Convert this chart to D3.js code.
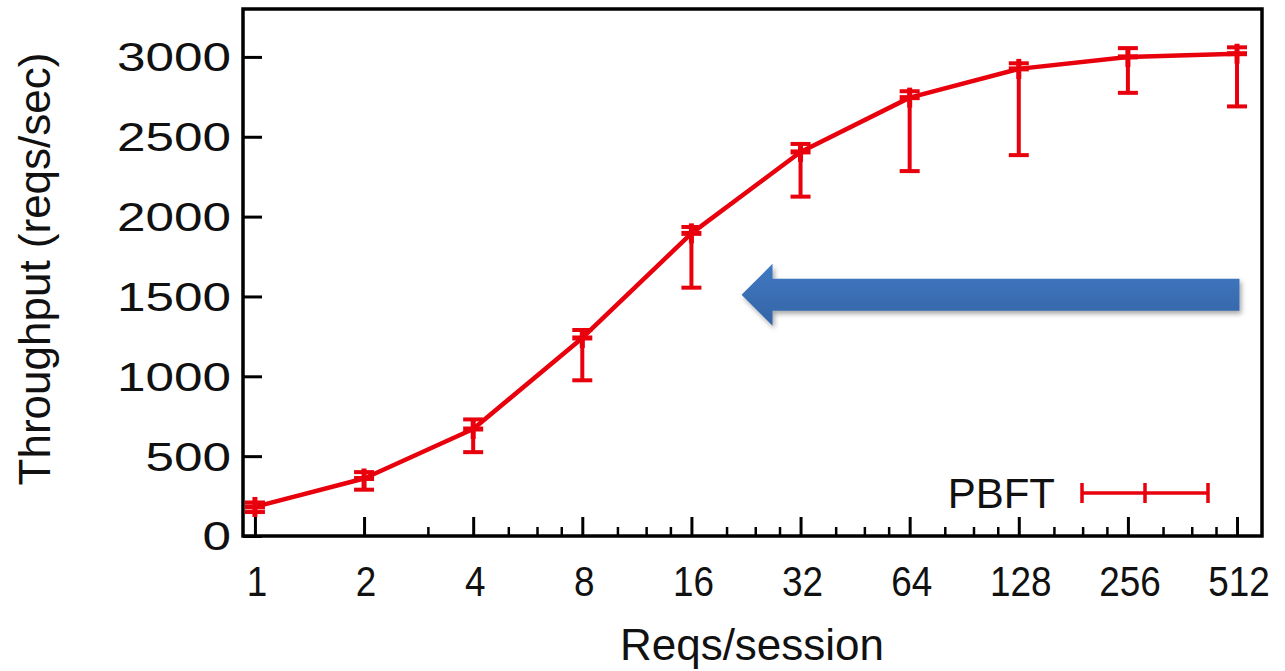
<!DOCTYPE html>
<html>
<head>
<meta charset="utf-8">
<script src="https://cdn.jsdelivr.net/npm/d3@7"></script>
<style>
  html, body { margin: 0; padding: 0; background: #fff; }
  svg { display: block; font-family: "Liberation Sans", Arial, sans-serif; }
</style>
</head>
<body>
<svg id="chart" width="1285" height="671"></svg>
<script>
  // ── Data ────────────────────────────────────────────────────────────────
  const reqsPerSession = [1, 2, 4, 8, 16, 32, 64, 128, 256, 512];
  const throughput     = [182, 360, 670, 1240, 1895, 2405, 2745, 2925, 3000, 3020];
  const throughputLow  = [150, 290, 525, 975, 1555, 2125, 2285, 2385, 2775, 2690];
  const throughputHigh = [210, 400, 730, 1290, 1935, 2455, 2785, 2960, 3055, 3060];

  const xMajorTicks = [1, 2, 4, 8, 16, 32, 64, 128, 256, 512];
  const xMinorTicks = [3, 5, 6, 7, 10, 12, 14, 20, 24, 28, 40, 48, 56,
                       80, 96, 112, 160, 192, 224, 320, 384, 448];
  const yTicks = [0, 500, 1000, 1500, 2000, 2500, 3000];

  const seriesName = 'PBFT';
  const xTitle = 'Reqs/session';
  const yTitle = 'Throughput (reqs/sec)';

  // annotation arrow, in data units: tail (right) -> tip (left)
  const arrowFrom = [520, 1510];
  const arrowTo   = [22, 1510];

  // ── Layout ──────────────────────────────────────────────────────────────
  const RED = '#e8000d';
  const plot = { left: 243, top: 9, right: 1262, bottom: 536 };

  const svg = d3.select('#chart');

  const x = d3.scaleLog().base(2).domain([0.927, 600]).range([plot.left, plot.right]);
  const y = d3.scaleLinear().domain([0, 3300]).range([plot.bottom, plot.top]);

  const defs = svg.append('defs');
  const grad = defs.append('linearGradient').attr('id', 'arrowFill')
    .attr('x1', 0).attr('y1', 0).attr('x2', 0).attr('y2', 1);
  grad.append('stop').attr('offset', '0%').attr('stop-color', '#4079c2');
  grad.append('stop').attr('offset', '100%').attr('stop-color', '#3464a6');
  const shadow = defs.append('filter').attr('id', 'arrowShadow')
    .attr('x', '-10%').attr('y', '-40%').attr('width', '120%').attr('height', '180%');
  shadow.append('feDropShadow').attr('dx', 2).attr('dy', 3).attr('stdDeviation', 2.5)
    .attr('flood-color', '#000').attr('flood-opacity', 0.35);

  // ── Axes (ticks point inward, no mirror) ───────────────────────────────
  const yAxis = svg.append('g')
    .attr('transform', `translate(${plot.left},0)`)
    .call(d3.axisRight(y).tickValues(yTicks).tickSize(19).tickFormat(''));
  yAxis.select('.domain').remove();
  yAxis.selectAll('.tick line').attr('stroke', '#000').attr('stroke-width', 3);

  // y labels in the original are stretched sideways
  svg.append('g').selectAll('text')
    .data(yTicks).enter().append('text')
    .attr('x', 231).attr('y', d => y(d))
    .attr('dy', '0.36em')
    .attr('text-anchor', 'end')
    .attr('font-size', 40)
    .attr('textLength', d => String(d).length * 28.5)
    .attr('lengthAdjust', 'spacingAndGlyphs')
    .attr('fill', '#111')
    .text(d => d);

  const xAxis = svg.append('g')
    .attr('transform', `translate(0,${plot.bottom})`)
    .call(d3.axisTop(x).tickValues(xMajorTicks).tickSize(19).tickFormat(''));
  xAxis.select('.domain').remove();
  xAxis.selectAll('.tick line').attr('stroke', '#000').attr('stroke-width', 3);

  const xMinor = svg.append('g')
    .attr('transform', `translate(0,${plot.bottom})`)
    .call(d3.axisTop(x).tickValues(xMinorTicks).tickSize(9).tickFormat(''));
  xMinor.select('.domain').remove();
  xMinor.selectAll('.tick line').attr('stroke', '#000').attr('stroke-width', 2.5);

  svg.append('g').selectAll('text')
    .data(xMajorTicks).enter().append('text')
    .attr('x', d => x(d) + 2).attr('y', 596)
    .attr('text-anchor', 'middle')
    .attr('font-size', 42)
    .attr('textLength', d => String(d).length * 20.5)
    .attr('lengthAdjust', 'spacingAndGlyphs')
    .attr('fill', '#111')
    .text(d => d);

  // frame
  svg.append('rect')
    .attr('x', plot.left).attr('y', plot.top)
    .attr('width', plot.right - plot.left).attr('height', plot.bottom - plot.top)
    .attr('fill', 'none').attr('stroke', '#000').attr('stroke-width', 3.5);

  // titles
  svg.append('text')
    .attr('x', 752).attr('y', 660)
    .attr('text-anchor', 'middle').attr('font-size', 44).attr('fill', '#111')
    .text(xTitle);
  svg.append('text')
    .attr('transform', 'translate(50,269) rotate(-90)')
    .attr('text-anchor', 'middle').attr('font-size', 44).attr('fill', '#111')
    .text(yTitle);

  // ── Series: line + error bars + "+" markers ────────────────────────────
  const pts = reqsPerSession.map((r, i) => ({
    r, v: throughput[i], lo: throughputLow[i], hi: throughputHigh[i]
  }));

  svg.append('path')
    .datum(pts)
    .attr('d', d3.line().x(d => x(d.r)).y(d => y(d.v)))
    .attr('fill', 'none').attr('stroke', RED).attr('stroke-width', 4.5)
    .attr('stroke-linejoin', 'round');

  const bars = svg.append('g').attr('stroke', RED);
  pts.forEach(d => {
    const cx = x(d.r);
    bars.append('line').attr('x1', cx).attr('x2', cx)
      .attr('y1', y(d.lo)).attr('y2', y(d.hi)).attr('stroke-width', 4);
    [d.lo, d.hi].forEach(v => {
      bars.append('line').attr('x1', cx - 10).attr('x2', cx + 10)
        .attr('y1', y(v)).attr('y2', y(v)).attr('stroke-width', 4);
    });
    // marker
    bars.append('line').attr('x1', cx - 10).attr('x2', cx + 10)
      .attr('y1', y(d.v)).attr('y2', y(d.v)).attr('stroke-width', 5);
    bars.append('line').attr('x1', cx).attr('x2', cx)
      .attr('y1', y(d.v) - 10).attr('y2', y(d.v) + 10).attr('stroke-width', 5);
  });

  // ── Legend ─────────────────────────────────────────────────────────────
  const legY = 493;
  svg.append('text')
    .attr('x', 1055).attr('y', 508)
    .attr('text-anchor', 'end').attr('font-size', 42).attr('fill', '#111')
    .text(seriesName);
  const leg = svg.append('g').attr('stroke', RED).attr('stroke-width', 3.5);
  leg.append('line').attr('x1', 1082).attr('x2', 1208).attr('y1', legY).attr('y2', legY);
  [1082, 1145, 1208].forEach(lx => {
    leg.append('line').attr('x1', lx).attr('x2', lx)
      .attr('y1', legY - 10).attr('y2', legY + 10);
  });

  // ── Annotation arrow ───────────────────────────────────────────────────
  const tailX = x(arrowFrom[0]), tipX = x(arrowTo[0]);
  const ay = y(arrowTo[1]);
  const headLen = 31, shaftHalf = 16, headHalf = 31;
  const arrowPts = [
    [tipX, ay],
    [tipX + headLen, ay - headHalf],
    [tipX + headLen, ay - shaftHalf],
    [tailX, ay - shaftHalf],
    [tailX, ay + shaftHalf],
    [tipX + headLen, ay + shaftHalf],
    [tipX + headLen, ay + headHalf]
  ];
  svg.append('path')
    .attr('d', d3.line()(arrowPts) + 'Z')
    .attr('fill', 'url(#arrowFill)')
    .attr('filter', 'url(#arrowShadow)');
</script>
</body>
</html>
